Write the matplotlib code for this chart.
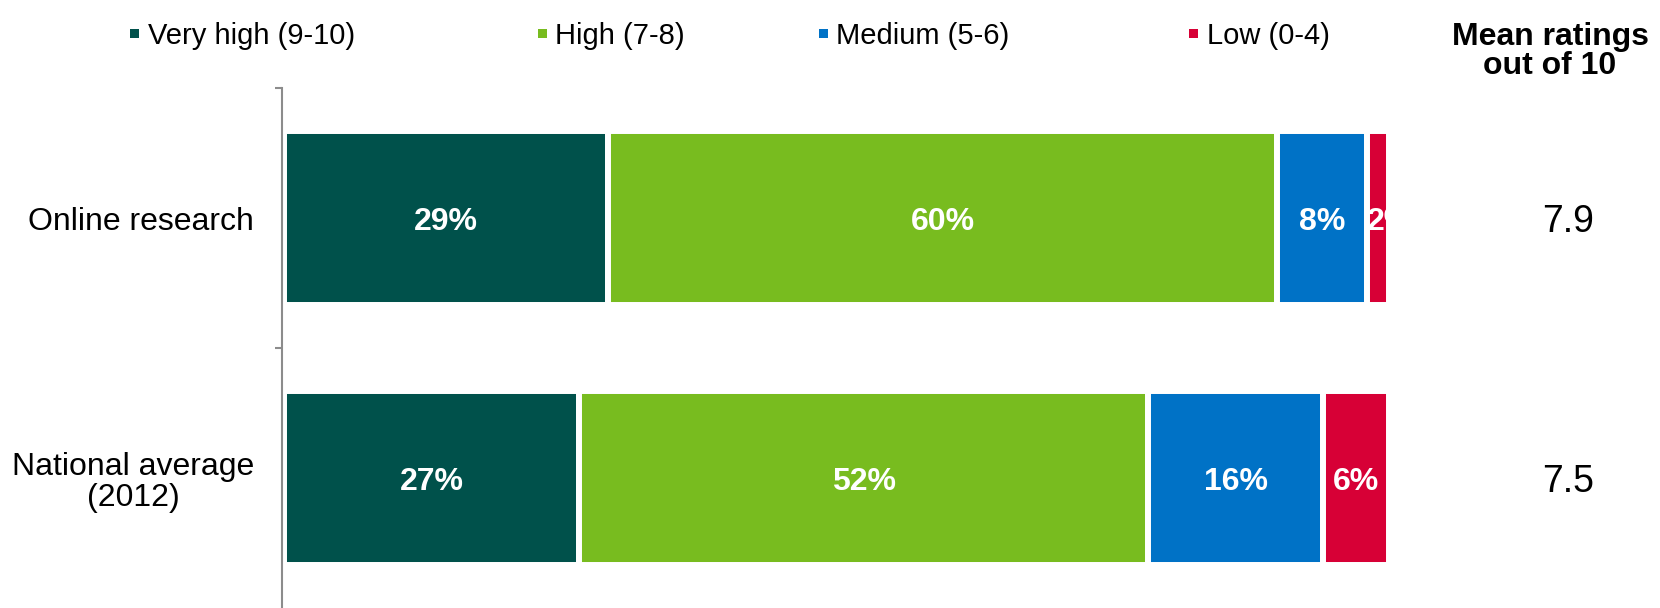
import numpy as np
import matplotlib.pyplot as plt
from matplotlib.patches import Rectangle

# data
groups = ['Online research', 'National average\n(2012)']
bands = ['Very high (9-10)', 'High (7-8)', 'Medium (5-6)', 'Low (0-4)']
very_high = [29, 27]
high = [60, 52]
medium = [8, 16]
low = [2, 6]
means = ['7.9', '7.5']

colors = ['#00514B', '#78BC1F', '#0072C6', '#D70036']

plt.rcParams['font.family'] = ['Liberation Sans', 'DejaVu Sans']

W, H = 1660, 608
fig = plt.figure(figsize=(W / 100, H / 100), dpi=100)

def fx(px):
    return px / W

def fy(py):
    return 1 - py / H

# axes: spine at x=282px, top tick at y=88px, runs off the bottom of the image
ax = fig.add_axes([fx(282), 0, fx(1389 - 282), (H - 88) / H])

values = np.array([very_high, high, medium, low], dtype=float)  # bands x groups
shares = values / values.sum(axis=0) * 100  # bars are stretched to 100%

ypos = np.arange(len(groups))
left = np.zeros(len(groups))
for b in range(len(bands)):
    ax.barh(ypos, shares[b], left=left, height=0.67, color=colors[b],
            edgecolor='white', linewidth=4.3)
    for g in range(len(groups)):
        w = shares[b][g]
        lab = f'{int(values[b][g])}%'
        if w < 4:
            # too narrow: label starts at the segment, spills onto the white
            ax.text(left[g] + w / 2 - 1.0, ypos[g], lab, color='white',
                    fontsize=23, fontweight='bold', ha='left',
                    va='center_baseline')
        else:
            ax.text(left[g] + w / 2, ypos[g], lab, color='white',
                    fontsize=23, fontweight='bold', ha='center',
                    va='center_baseline')
    left += shares[b]

# mean ratings column on the right
for g in range(len(groups)):
    ax.text(116.2, ypos[g], means[g], fontsize=27, ha='center',
            va='center_baseline', clip_on=False)

ax.set_xlim(-0.18, 100)
ax.set_ylim(1.5, -0.5)

ax.set_yticks(ypos)
ax.set_yticklabels(groups, fontsize=23)
ax.tick_params(axis='y', which='major', length=0, pad=20)
ax.set_yticks([-0.5, 0.5], minor=True)
ax.tick_params(axis='y', which='minor', length=5, width=1.5, color='#8c8c8c')
for lbl in ax.get_yticklabels():
    lbl.set_multialignment('center')
    lbl.set_linespacing(1.05)

ax.set_xticks([])
for s in ['top', 'right', 'bottom']:
    ax.spines[s].set_visible(False)
ax.spines['left'].set_color('#8c8c8c')
ax.spines['left'].set_linewidth(1.5)

# legend along the top
sq_x = [134, 542, 823, 1193]
txt_x = [148, 555, 836, 1207]
leg_y = 33
sq = 9
for i, band in enumerate(bands):
    fig.patches.append(Rectangle((fx(sq_x[i] - sq / 2), fy(leg_y + sq / 2)),
                                 sq / W, sq / H, transform=fig.transFigure,
                                 facecolor=colors[i], edgecolor='none'))
    fig.text(fx(txt_x[i]), fy(leg_y), band, fontsize=21, ha='left',
             va='center_baseline')

fig.text(fx(1550), fy(33), 'Mean ratings', fontsize=23, fontweight='bold',
         ha='center', va='center_baseline')
fig.text(fx(1550), fy(63), 'out of 10', fontsize=23, fontweight='bold',
         ha='center', va='center_baseline')

fig.savefig('out.png', dpi=100)
